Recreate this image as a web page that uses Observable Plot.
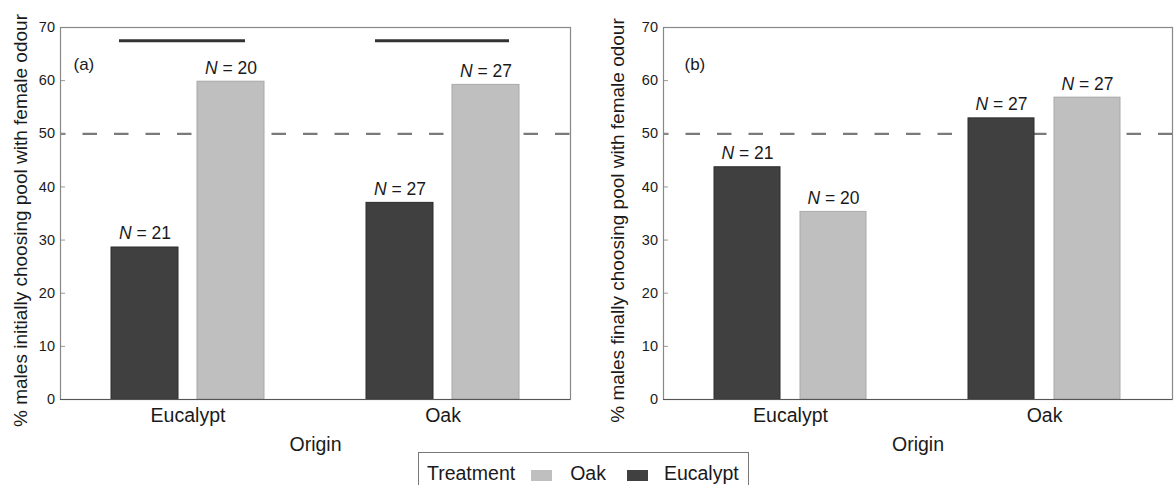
<!DOCTYPE html>
<html>
<head>
<meta charset="utf-8">
<script src="https://cdn.jsdelivr.net/npm/d3@7"></script>
<script src="https://cdn.jsdelivr.net/npm/@observablehq/plot@0.6"></script>
<style>
  body { margin: 0; background: #fff; font-family: "Liberation Sans", Arial, sans-serif; }
  #fig { position: relative; width: 1174px; height: 485px; overflow: hidden; background: #fff; }
  #panels { display: flex; }
  #legend {
    position: absolute; left: 418px; top: 452px; width: 331px; height: 42px;
    box-sizing: border-box; border: 1.5px solid #777; background: #fff;
    padding: 9px 0 0 8px; font-size: 19.5px; line-height: 22px; color: #1a1a1a; white-space: nowrap;
  }
  #legend .sw { display: inline-block; width: 21px; height: 11px; vertical-align: -1px; }
</style>
</head>
<body>
<div id="fig">
  <div id="panels"></div>
  <div id="legend"></div>
</div>
<script>
// Origin groups on the x axis and odour treatments within each group
const origins = ["Eucalypt", "Oak"];
const treatments = ["Eucalypt", "Oak"];
const treatmentFills = ["#404040", "#bfbfbf"];
const treatmentStrokes = ["#2c2c2c", "#a8a8a8"];
const legendOrder = ["Oak", "Eucalypt"];

// (a) % of males initially choosing the pool with female odour
const initialEucalyptOdour = [28.6, 37.0];
const initialOakOdour = [59.8, 59.2];
const initialNEucalypt = [21, 27];
const initialNOak = [20, 27];
const initialSignificant = ["Eucalypt", "Oak"];

// (b) % of males finally choosing the pool with female odour
const finalEucalyptOdour = [43.7, 52.9];
const finalOakOdour = [35.3, 56.8];
const finalNEucalypt = [21, 27];
const finalNOak = [20, 27];
const finalSignificant = [];

const yTicks = [0, 10, 20, 30, 40, 50, 60, 70];
const chanceLevel = 50;
const significanceLevel = 67.5;

const FONT = '"Liberation Sans", Arial, sans-serif';
const PANEL_W = 587, PANEL_H = 462, M_TOP = 27, M_BOTTOM = 63;
const BAR_INSET = 86; // each bar covers the part of its origin band left over by this inset

function panel(cfg) {
  const rows = origins.flatMap((o, i) => [
    {origin: o, treatment: "Eucalypt", value: cfg.euc[i], n: cfg.nEuc[i]},
    {origin: o, treatment: "Oak", value: cfg.oak[i], n: cfg.nOak[i]}
  ]);
  const frameW = PANEL_W - cfg.marginLeft - cfg.marginRight;
  const sig = cfg.significant.map(o => ({origin: o, level: significanceLevel}));
  const sigInsets = {Eucalypt: [8, 19], Oak: [9, 10]};

  const byT = t => rows.filter(d => d.treatment === t);
  const sw = t => treatmentStrokes[treatments.indexOf(t)];

  const svg = Plot.plot({
    width: PANEL_W,
    height: PANEL_H,
    marginLeft: cfg.marginLeft,
    marginRight: cfg.marginRight,
    marginTop: M_TOP,
    marginBottom: M_BOTTOM,
    style: {fontFamily: FONT, fontSize: "14.5px", color: "#1a1a1a", background: "#fff", overflow: "visible"},
    x: {domain: origins, paddingInner: 0.4, paddingOuter: 0.2, align: 0.5},
    y: {domain: [0, 70]},
    color: {domain: treatments, range: treatmentFills},
    marks: [
      // chance level
      Plot.ruleY([chanceLevel], {stroke: "#7a7a7a", strokeWidth: 2.2, strokeDasharray: "14.5,17", strokeDashoffset: 9}),
      // bars
      Plot.barY(byT("Eucalypt"), {x: "origin", y: "value", fill: "treatment", stroke: sw("Eucalypt"), strokeWidth: 1, insetLeft: 0, insetRight: BAR_INSET}),
      Plot.barY(byT("Oak"), {x: "origin", y: "value", fill: "treatment", stroke: sw("Oak"), strokeWidth: 1, insetLeft: BAR_INSET, insetRight: 0}),
      // sample sizes above bars
      Plot.text(byT("Eucalypt"), {x: "origin", y: "value", text: d => `N = ${d.n}`, dx: -43, dy: -20.5, lineAnchor: "top", fontSize: 17.5, fill: "#1a1a1a"}),
      Plot.text(byT("Oak"), {x: "origin", y: "value", text: d => `N = ${d.n}`, dx: 43, dy: -20.5, lineAnchor: "top", fontSize: 17.5, fill: "#1a1a1a"}),
      // significance bars
      ...sig.map(s => Plot.ruleY([s], {x1: "origin", x2: "origin", y: "level", stroke: "#333", strokeWidth: 3,
        insetLeft: sigInsets[s.origin][0], insetRight: sigInsets[s.origin][1]})),
      // inward tick marks
      Plot.ruleY(yTicks, {y: d => d, stroke: "#999", strokeWidth: 1, insetRight: frameW - 5}),
      // frame and axes
      Plot.frame({stroke: "#888", strokeWidth: 1.2}),
      Plot.ruleY([0], {stroke: "#555", strokeWidth: 1.2}),
      Plot.axisY(yTicks, {tickSize: 0, tickPadding: 5.5, label: null, fontSize: 14.5, fill: "#1a1a1a"}),
      Plot.axisX({tickSize: 0, tickPadding: 9, label: null, fontSize: 19.5, fill: "#1a1a1a"}),
      // axis titles and panel tag
      Plot.text([cfg.yLabel], {frameAnchor: "left", text: d => d, rotate: -90, textAnchor: "middle", dx: cfg.labelDx, dy: 7, fontSize: 19, fill: "#1a1a1a"}),
      Plot.text(["Origin"], {frameAnchor: "bottom", text: d => d, lineAnchor: "top", dy: 37.7, fontSize: 19.5, fill: "#1a1a1a"}),
      Plot.text([cfg.tag], {frameAnchor: "top-left", text: d => d, textAnchor: "start", dx: cfg.tagDx, dy: 30.5, fontSize: 17, fill: "#1a1a1a"})
    ]
  });

  // italic N in the sample-size labels
  svg.querySelectorAll("text").forEach(el => {
    const m = /^N = (\d+)$/.exec(el.textContent);
    if (!m) return;
    el.textContent = "";
    const ts = document.createElementNS("http://www.w3.org/2000/svg", "tspan");
    ts.setAttribute("font-style", "italic");
    ts.textContent = "N";
    el.appendChild(ts);
    el.appendChild(document.createTextNode(` = ${m[1]}`));
  });
  return svg;
}

const panels = document.getElementById("panels");
panels.appendChild(panel({
  tag: "(a)",
  yLabel: "% males initially choosing pool with female odour",
  euc: initialEucalyptOdour, oak: initialOakOdour,
  nEuc: initialNEucalypt, nOak: initialNOak,
  significant: initialSignificant,
  marginLeft: 60, marginRight: 17, tagDx: 13, labelDx: -40
}));
panels.appendChild(panel({
  tag: "(b)",
  yLabel: "% males finally choosing pool with female odour",
  euc: finalEucalyptOdour, oak: finalOakOdour,
  nEuc: finalNEucalypt, nOak: finalNOak,
  significant: finalSignificant,
  marginLeft: 76, marginRight: 2, tagDx: 21, labelDx: -46
}));

// Treatment legend
const legend = document.getElementById("legend");
const add = (html) => legend.insertAdjacentHTML("beforeend", html);
add(`<span>Treatment</span>`);
const gaps = {Oak: [16, 18], Eucalypt: [21, 16]};
legendOrder.forEach(t => {
  const c = treatmentFills[treatments.indexOf(t)];
  add(`<span class="sw" style="background:${c};margin-left:${gaps[t][0]}px;margin-right:${gaps[t][1]}px"></span><span>${t}</span>`);
});
</script>
</body>
</html>
